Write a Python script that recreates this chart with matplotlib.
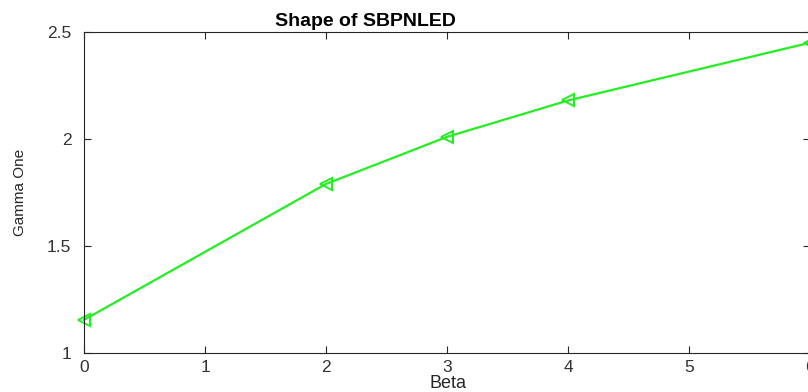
import matplotlib
matplotlib.use("Agg")
import matplotlib.pyplot as plt

beta = [0, 2, 3, 4, 6]
gamma_one = [1.155, 1.79, 2.01, 2.18, 2.45]
xticks = [0, 1, 2, 3, 4, 5, 6]
yticks = [1, 1.5, 2, 2.5]
ytick_labels = ["1", "1.5", "2", "2.5"]

plt.rcParams['font.family'] = ['Liberation Sans', 'DejaVu Sans']

fig = plt.figure(figsize=(8.08, 3.92), dpi=100)
ax = fig.add_axes([84/808, 1-353/392, (810-84)/808, (353-32)/392])

ax.plot(beta, gamma_one, color='#22ee22', linewidth=1.6, marker='<',
        markersize=9, markerfacecolor='none', markeredgecolor='#22ee22',
        markeredgewidth=1.4, clip_on=False)

ax.set_xlim(0, 6)
ax.set_ylim(1, 2.5)
ax.set_xticks(xticks)
ax.set_yticks(yticks)
ax.set_yticklabels(ytick_labels)
ax.tick_params(direction='in', top=True, right=True, length=5, width=0.8,
               colors='#262626', labelsize=12.5, labelcolor='#333333')
ax.tick_params(axis='x', pad=5)
ax.tick_params(axis='y', pad=9)
for s in ax.spines.values():
    s.set_color('#262626')
    s.set_linewidth(0.8)

ax.set_xlabel('Beta', fontsize=13, color='#262626', va='center')
ax.xaxis.set_label_coords(0.501, -0.095)
ax.set_ylabel('Gamma One', fontsize=11, color='#262626', va='center')
ax.yaxis.set_label_coords(-0.088, 0.5)
ax.set_title('Shape of SBPNLED', fontsize=14, fontweight='bold', x=0.388, pad=4)

fig.savefig('out.png', dpi=100)
